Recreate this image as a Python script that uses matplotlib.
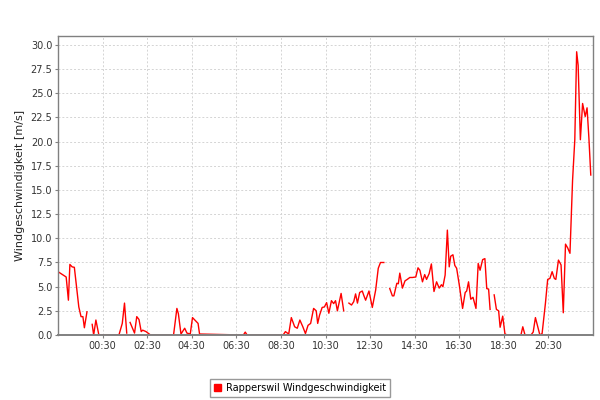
import numpy as np
import pandas as pd
import matplotlib
matplotlib.use('Agg')
import matplotlib.pyplot as plt
import matplotlib.dates as mdates
from matplotlib.patches import Patch

# messzeitpunkte (ab 22:30 vortag), nan = luecke
times = ['22:30', '22:52', '22:58', '23:02', '23:08', '23:14', '23:26', '23:32', '23:37', '23:41',
         '23:48', '23:52', '00:02', '00:06', '00:12', '00:20', '01:14', '01:23', '01:29', '01:35',
         '01:39', '01:44', '01:56', '02:02', '02:08', '02:14', '02:18', '02:27', '02:39', '03:41',
         '03:50', '03:54', '04:01', '04:11', '04:17', '04:26', '04:32', '04:42', '04:47', '04:51',
         '06:49', '06:54', '06:59', '08:36', '08:42', '08:51', '08:58', '09:07', '09:14', '09:21',
         '09:29', '09:36', '09:43', '09:50', '09:58', '10:05', '10:09', '10:14', '10:21', '10:27',
         '10:33', '10:39', '10:46', '10:52', '10:57', '11:02', '11:12', '11:19', '11:25', '11:33',
         '11:40', '11:46', '11:51', '11:56', '12:02', '12:09', '12:13', '12:18', '12:27', '12:36',
         '12:45', '12:52', '12:58', '13:07', '13:14', '13:23', '13:30', '13:34', '13:42', '13:46',
         '13:50', '13:57', '14:04', '14:10', '14:17', '14:24', '14:33', '14:39', '14:44', '14:51',
         '14:57', '15:02', '15:09', '15:15', '15:22', '15:29', '15:36', '15:42', '15:46', '15:52',
         '15:58', '16:03', '16:07', '16:13', '16:18', '16:23', '16:30', '16:39', '16:46', '16:50',
         '16:55', '17:01', '17:07', '17:15', '17:21', '17:26', '17:33', '17:39', '17:44', '17:49',
         '17:53', '17:58', '18:04', '18:10', '18:16', '18:20', '18:27', '18:33', '18:40', '19:16',
         '19:21', '19:27', '19:43', '19:49', '19:55', '20:01', '20:07', '20:13', '20:22', '20:28',
         '20:34', '20:40', '20:46', '20:50', '20:57', '21:04', '21:10', '21:16', '21:22', '21:28',
         '21:35', '21:41', '21:46', '21:50', '21:56', '22:02', '22:09', '22:14', '22:19', '22:24']
speed = [6.55, 6.0, 3.6, 7.3, 7.05, 7.0, 2.9, 1.9, 1.9, 0.75,
         2.4, np.nan, 1.1, 0.0, 1.55, 0.0, 0.0, 1.2, 3.3, 0.2,
         np.nan, 1.3, 0.2, 1.9, 1.6, 0.35, 0.5, 0.35, 0.0, 0.0,
         2.75, 2.2, 0.1, 0.7, 0.2, 0.1, 1.8, 1.4, 1.2, 0.1,
         0.0, 0.3, 0.0, 0.0, 0.35, 0.1, 1.8, 0.85, 0.7, 1.55,
         0.85, 0.15, 1.0, 1.2, 2.75, 2.5, 1.2, 2.05, 2.85, 2.9,
         3.35, 2.25, 3.55, 3.25, 3.55, 2.5, 4.3, 2.5, np.nan, 3.3,
         3.1, 3.45, 4.25, 3.3, 4.4, 4.55, 4.1, 3.6, 4.55, 2.85,
         4.65, 6.9, 7.5, 7.5, np.nan, 4.8, 4.05, 4.05, 5.35, 5.3,
         6.4, 4.85, 5.6, 5.75, 5.95, 5.95, 6.0, 6.95, 6.7, 5.5,
         6.25, 5.75, 6.35, 7.35, 4.5, 5.5, 4.85, 5.2, 5.0, 6.2,
         10.85, 7.05, 8.15, 8.3, 7.2, 6.9, 5.2, 2.75, 4.4, 4.55,
         5.5, 3.7, 3.9, 2.75, 7.4, 6.7, 7.8, 7.9, 4.8, 4.75,
         2.65, np.nan, 4.15, 2.65, 2.5, 0.8, 1.95, 0.1, 0.0, 0.0,
         0.85, 0.0, 0.0, 0.3, 1.8, 0.9, 0.0, 0.15, 3.3, 5.75,
         5.85, 6.55, 5.85, 5.75, 7.75, 7.25, 2.3, 9.4, 9.0, 8.45,
         16.0, 20.2, 29.3, 27.9, 20.2, 23.95, 22.6, 23.5, 20.35, 16.55]

label = 'Rapperswil Windgeschwindigkeit'
ylabel = 'Windgeschwindigkeit [m/s]'

# zeiten auf datum abbilden (tageswechsel nach mitternacht)
day = pd.Timestamp('2013-01-01')
stamps = []
prev = None
for t in times:
    ts = pd.Timestamp(f'{day.date()} {t}')
    if prev is not None and ts < prev:
        day = day + pd.Timedelta(days=1)
        ts = ts + pd.Timedelta(days=1)
    stamps.append(ts)
    prev = ts

start = pd.Timestamp('2013-01-01 22:30')
end = start + pd.Timedelta(hours=24)
ticks = pd.date_range('2013-01-02 00:30', periods=11, freq='2h')

plt.rcParams['font.family'] = ['DejaVu Sans']
fig = plt.figure(figsize=(6, 4), dpi=100)
ax = fig.add_axes([58 / 600, 1 - 335 / 400, 535 / 600, 299 / 400])

ax.plot(stamps, speed, color='#ff0000', linewidth=1.0, zorder=2)

ax.set_xlim(start, end)
ax.set_ylim(0, 30.93)
ax.set_yticks(np.arange(0, 30.1, 2.5))
ax.yaxis.set_major_formatter(matplotlib.ticker.FormatStrFormatter('%.1f'))
ax.set_xticks(ticks)
ax.xaxis.set_major_formatter(mdates.DateFormatter('%H:%M'))

ax.grid(True, color='#d4d4d4', linestyle=(0, (2, 2)), linewidth=0.7)
ax.set_axisbelow(True)
for s in ax.spines.values():
    s.set_color('#808080')
    s.set_linewidth(1.0)
    s.set_zorder(3)
ax.spines['bottom'].set_linewidth(1.4)
ax.tick_params(axis='both', colors='#808080', length=2, width=0.8, labelsize=7, labelcolor='#333333', pad=2)
ax.set_ylabel(ylabel, fontsize=8, color='#222222', labelpad=4)

fig.legend(handles=[Patch(facecolor='#ff0000', edgecolor='#ff0000', label=label)],
           loc='center', bbox_to_anchor=(300 / 600, 1 - 388 / 400), fontsize=7,
           frameon=True, fancybox=False, edgecolor='#808080', handlelength=0.8, handleheight=0.8,
           handletextpad=0.5, borderpad=0.4, borderaxespad=0)

fig.savefig('out.png', dpi=100)
